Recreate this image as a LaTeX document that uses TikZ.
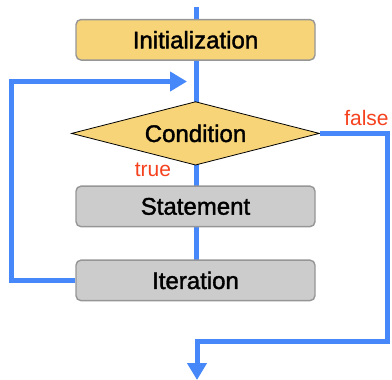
\documentclass[tikz,border=0pt]{standalone}
\usepackage{fontspec}
\setmainfont{Liberation Sans}
\newfontfamily\medfont[RawFeature={embolden=1.6}]{Liberation Sans}
\usetikzlibrary{shapes.geometric,arrows.meta}
\definecolor{flowblue}{RGB}{70,135,250}
\definecolor{boxgold}{RGB}{248,212,120}
\definecolor{boxgray}{RGB}{204,204,204}
\definecolor{edgegray}{RGB}{150,150,150}
\definecolor{labred}{RGB}{245,65,30}
\tikzset{
  flow/.style={draw=flowblue,line width=5pt},
  procbox/.style={draw=edgegray,line width=1.4pt,rounded corners=5pt,minimum width=239pt,minimum height=40.5pt,inner sep=0pt,font=\medfont\fontsize{24}{27}\selectfont},
  golden/.style={procbox,fill=boxgold},
  grayed/.style={procbox,fill=boxgray},
  decision/.style={diamond,aspect=3.9,draw=black,line width=0.8pt,fill=boxgold,minimum width=248pt,minimum height=63.5pt,inner sep=0pt,font=\medfont\fontsize{24}{27}\selectfont},
  branchlab/.style={text=labred,anchor=base,font=\fontsize{21}{24}\selectfont,inner sep=0pt},
  bigtip/.style={-{Triangle[length=17pt,width=19pt]}}
}
\begin{document}
\begin{tikzpicture}[x=1pt,y=-1pt]
\useasboundingbox (0,0) rectangle (392,380);
% coordinates
\coordinate (topc) at (196.5,7);
\coordinate (lt) at (11,81.5);
\coordinate (looptip) at (187,81.5);
\coordinate (rb) at (387,341);
\coordinate (endc) at (197,380);
\coordinate (c1) at (196.5,39.8);
\coordinate (c2) at (196.5,133.4);
\coordinate (c3) at (196.5,206.4);
\coordinate (c4) at (196.5,280.4);
% main flow line, drawn behind the nodes
\draw[flow] (topc) -- (c1) -- (c2) -- (c3) -- (c4);
% nodes
\node[golden] (init) at (195.5,39.8) {Initialization};
\node[decision] (cond) at (195.5,133.4) {Condition};
\node[grayed] (stmt) at (195.5,206.4) {Statement};
\node[grayed] (iter) at (195.5,280.4) {Iteration};
% loop and exit connectors
\draw[flow,bigtip] (iter.west) -| (lt) -- (looptip);
\draw[flow,bigtip] (cond.east) -| (rb) -| (endc);
% labels
\node[branchlab] (tl) at (153,176.5) {true};
\node[branchlab] (fl) at (366.5,125) {false};
\end{tikzpicture}
\end{document}
